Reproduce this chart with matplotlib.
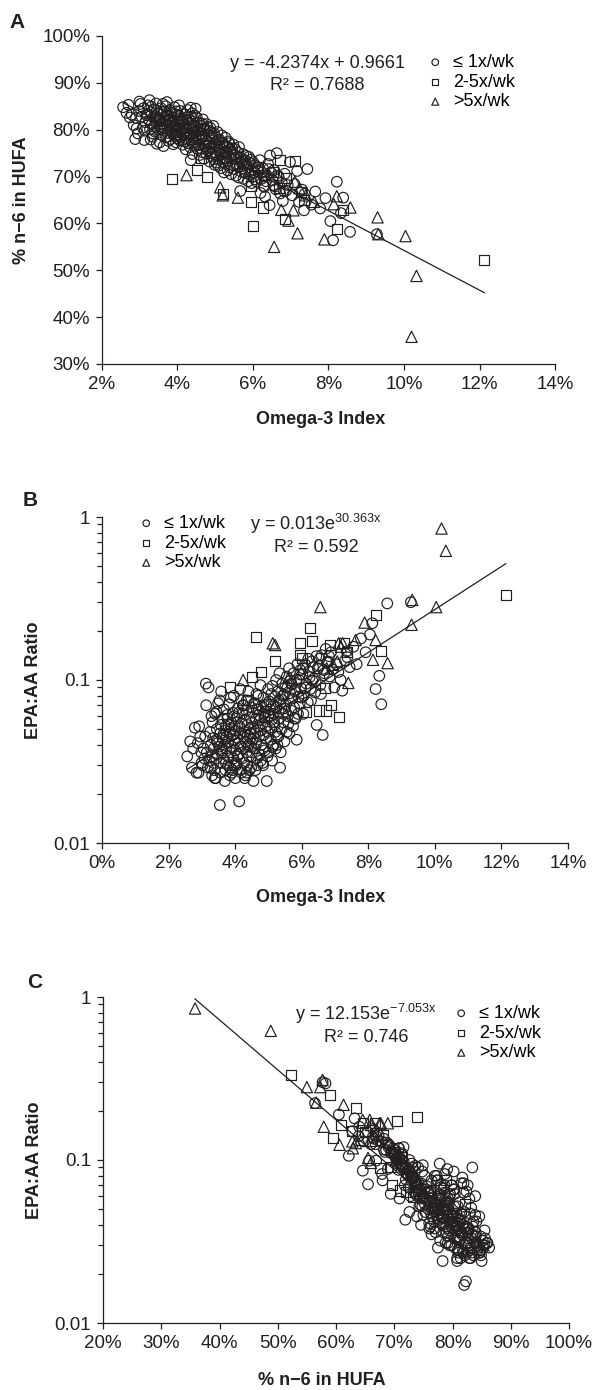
import numpy as np
import matplotlib.pyplot as plt
from matplotlib.ticker import PercentFormatter, FixedLocator, LogLocator, NullFormatter

plt.rcParams['font.family'] = ['Liberation Sans', 'DejaVu Sans']
plt.rcParams['mathtext.fontset'] = 'custom'
plt.rcParams['mathtext.rm'] = 'Liberation Sans'
plt.rcParams['mathtext.it'] = 'Liberation Sans:italic'
plt.rcParams['mathtext.bf'] = 'Liberation Sans:bold'

# per subject: omega-3 index (%), % n-6 in HUFA, EPA:AA ratio
# fish intake <= 1x/wk
circ_o3i = [2.56, 2.79, 2.84, 2.90, 2.95, 2.70, 2.98, 2.88, 2.65, 2.99,
            3.02, 3.05, 3.08, 3.10, 3.12, 3.15, 3.18, 3.20, 3.22, 3.25,
            3.27, 3.30, 3.32, 3.34, 3.36, 3.38, 3.39, 3.40, 3.42, 3.44,
            3.45, 3.47, 3.48, 3.49, 3.35, 3.52, 3.54, 3.55, 3.57, 3.58,
            3.60, 3.62, 3.63, 3.65, 3.66, 3.68, 3.70, 3.71, 3.72, 3.74,
            3.75, 3.76, 3.78, 3.79, 3.80, 3.82, 3.83, 3.85, 3.86, 3.88,
            3.89, 3.90, 3.91, 3.93, 3.94, 3.95, 3.96, 3.97, 3.98, 3.99,
            4.00, 4.02, 4.03, 4.05, 4.06, 4.08, 4.09, 4.10, 4.12, 4.13,
            4.14, 4.16, 4.17, 4.18, 4.20, 4.21, 4.22, 4.24, 4.25, 4.26,
            4.28, 4.29, 4.30, 4.32, 4.33, 4.34, 4.36, 4.37, 4.38, 4.40,
            4.41, 4.42, 4.44, 4.45, 4.46, 4.47, 4.48, 4.49, 3.72, 4.35,
            4.50, 4.52, 4.53, 4.55, 4.56, 4.58, 4.59, 4.60, 4.62, 4.63,
            4.65, 4.66, 4.68, 4.69, 4.70, 4.72, 4.73, 4.75, 4.76, 4.78,
            4.79, 4.80, 4.82, 4.83, 4.85, 4.86, 4.88, 4.89, 4.90, 4.92,
            4.93, 4.95, 4.96, 4.98, 4.99, 5.00, 5.02, 5.04, 5.05, 5.07,
            5.08, 5.10, 5.12, 5.13, 5.15, 5.16, 5.18, 5.20, 5.21, 5.23,
            5.25, 5.26, 5.28, 5.30, 5.31, 5.33, 5.35, 5.36, 5.38, 5.40,
            5.42, 5.44, 5.45, 5.47, 5.49, 5.50, 5.53, 5.55, 5.58, 5.60,
            5.62, 5.65, 5.66, 5.68, 5.70, 5.72, 5.75, 5.77, 5.80, 5.82,
            5.85, 5.87, 5.90, 5.92, 5.94, 5.96, 5.98, 6.02, 6.06, 6.10,
            6.14, 6.18, 6.22, 6.26, 6.30, 6.32, 6.36, 6.40, 6.44, 6.45,
            6.48, 6.20, 6.52, 6.56, 6.60, 6.63, 6.68, 6.72, 6.76, 6.79,
            6.84, 6.88, 6.92, 6.98, 7.04, 7.10, 7.17, 7.22, 7.30, 7.35,
            7.37, 7.44, 7.55, 7.65, 7.78, 7.92, 8.12, 8.22, 8.33, 8.39,
            8.57, 9.28, 8.05,
            3.31, 3.43, 3.56, 3.64, 3.69, 3.77, 3.84, 3.92, 4.01, 4.07,
            4.11, 4.19, 4.23, 4.27, 4.31, 4.39, 4.43, 4.51, 4.57, 4.61,
            4.67, 4.71, 4.77, 4.84, 4.87, 4.91, 4.97, 5.01, 5.06, 5.11,
            5.17, 5.22, 5.27, 5.32, 5.37, 5.43, 5.48, 5.52, 5.57, 5.63,
            5.69, 5.74, 5.79, 5.84, 5.89, 5.95, 6.00, 6.04, 6.12, 6.24,
            6.34, 6.42, 6.54, 6.66, 6.82, 3.26, 3.46, 3.61, 4.04, 4.46,
            2.74, 2.92, 3.13, 3.29, 3.53,
            3.58, 3.87, 4.15, 4.64, 3.44, 3.97, 5.55, 5.78, 6.05, 5.30,
            6.28, 4.84, 5.15, 6.58, 4.35]
circ_n6 = [84.8, 83.2, 81.0, 82.5, 79.2, 85.3, 84.0, 78.0, 83.6, 86.0,
           85.5, 82.8, 80.4, 84.6, 77.8, 81.6, 83.1, 83.4, 85.2, 82.0,
           80.1, 83.7, 81.2, 78.5, 82.6, 84.3, 80.8, 79.6, 82.9, 81.4,
           77.0, 83.4, 80.0, 81.9, 79.2, 82.3, 82.0, 80.7, 78.9, 83.8,
           81.3, 79.8, 76.5, 82.7, 80.2, 81.8, 78.4, 83.0, 80.9, 79.3,
           82.2, 77.6, 81.0, 84.2, 79.9, 78.0, 81.5, 80.4, 82.6, 79.1,
           76.9, 80.8, 81.9, 78.6, 80.0, 83.3, 77.3, 79.5, 81.2, 78.2,
           80.5, 79.0, 82.4, 77.8, 80.9, 78.5, 81.6, 79.7, 82.3, 76.8,
           80.2, 78.9, 81.1, 77.5, 79.4, 80.7, 75.8, 82.0, 78.2, 79.9,
           77.1, 81.4, 78.7, 80.3, 76.3, 79.0, 82.8, 77.9, 80.0, 74.8,
           78.4, 81.0, 76.6, 79.3, 77.4, 80.6, 84.5, 78.0, 85.9, 73.5,
           77.2, 79.6, 75.9, 78.3, 76.7, 80.1, 74.6, 77.8, 79.2, 76.0,
           81.3, 75.2, 78.6, 77.0, 73.8, 79.9, 76.4, 78.0, 74.9, 77.5,
           80.6, 75.6, 76.9, 78.8, 73.2, 77.3, 75.0, 79.4, 76.2, 74.3,
           78.2, 80.8, 73.7, 77.0, 72.5, 75.1, 73.0, 76.7, 74.4, 77.8,
           72.3, 75.6, 73.6, 76.2, 71.8, 74.8, 77.2, 73.1, 75.3, 70.9,
           74.0, 76.5, 72.7, 75.0, 73.4, 71.3, 77.5, 74.2, 72.0, 75.8,
           70.5, 73.8, 76.0, 72.4, 74.6, 71.6, 73.9, 70.2, 72.8, 75.2,
           69.8, 72.1, 66.9, 74.0, 71.0, 73.3, 69.5, 72.5, 70.7, 74.4,
           71.9, 69.0, 72.9, 70.4, 73.6, 68.6, 71.5, 70.0, 72.4, 68.9,
           71.1, 73.5, 69.5, 71.8, 67.8, 65.7, 70.3, 72.7, 63.9, 74.5,
           70.8, 66.5, 69.2, 71.4, 67.3, 75.0, 69.9, 66.4, 68.7, 64.8,
           70.6, 67.0, 68.2, 73.1, 66.0, 68.4, 71.2, 64.6, 67.2, 62.8,
           66.3, 71.6, 64.0, 66.8, 63.2, 65.4, 56.4, 68.9, 62.2, 65.5,
           58.2, 57.7, 60.5,
           84.9, 85.6, 84.6, 83.9, 85.0, 82.9, 83.6, 84.8, 83.1, 84.0,
           81.9, 83.3, 82.6, 84.2, 82.1, 83.5, 81.8, 82.6, 81.5, 80.9,
           82.2, 80.3, 81.2, 79.8, 80.4, 78.6, 79.2, 78.4, 79.5, 77.9,
           78.8, 77.0, 78.3, 76.4, 77.1, 75.2, 76.8, 75.9, 74.1, 76.3,
           73.0, 74.8, 73.5, 72.6, 74.2, 71.2, 73.1, 70.8, 72.0, 70.9,
           69.0, 71.6, 68.2, 70.2, 66.9, 86.3, 84.1, 85.5, 85.2, 83.0,
           82.6, 80.3, 79.8, 77.9, 77.3,
           80.2, 81.7, 79.1, 78.7, 82.4, 83.9, 72.6, 70.9, 69.4, 73.9,
           68.0, 76.0, 74.6, 67.9, 84.7]
circ_ratio = [0.034, 0.051, 0.027, 0.027, 0.045, 0.029, 0.036, 0.041, 0.042, 0.031,
              0.030, 0.038, 0.033, 0.045, 0.095, 0.036, 0.029, 0.090, 0.032, 0.048,
              0.040, 0.034, 0.055, 0.044, 0.038, 0.028, 0.025, 0.062, 0.025, 0.043,
              0.050, 0.035, 0.041, 0.072, 0.031, 0.039, 0.0171, 0.047, 0.053, 0.031,
              0.036, 0.044, 0.058, 0.033, 0.066, 0.040, 0.049, 0.028, 0.052, 0.038,
              0.045, 0.061, 0.034, 0.030, 0.042, 0.071, 0.047, 0.029, 0.036, 0.055,
              0.050, 0.039, 0.027, 0.063, 0.046, 0.033, 0.080, 0.030, 0.043, 0.052,
              0.037, 0.049, 0.031, 0.058, 0.044, 0.067, 0.035, 0.041, 0.018, 0.052,
              0.047, 0.039, 0.028, 0.075, 0.054, 0.033, 0.062, 0.038, 0.045, 0.070,
              0.048, 0.025, 0.057, 0.042, 0.065, 0.036, 0.030, 0.053, 0.046, 0.085,
              0.040, 0.034, 0.059, 0.050, 0.044, 0.039, 0.029, 0.068, 0.031, 0.075,
              0.055, 0.043, 0.063, 0.024, 0.050, 0.038, 0.072, 0.047, 0.058, 0.041,
              0.033, 0.066, 0.052, 0.080, 0.061, 0.045, 0.035, 0.057, 0.093, 0.049,
              0.040, 0.069, 0.054, 0.031, 0.078, 0.046, 0.059, 0.037, 0.064, 0.052,
              0.044, 0.024, 0.071, 0.048, 0.088, 0.060, 0.074, 0.051, 0.066, 0.043,
              0.082, 0.057, 0.092, 0.039, 0.070, 0.062, 0.053, 0.079, 0.048, 0.100,
              0.068, 0.045, 0.085, 0.058, 0.064, 0.110, 0.029, 0.072, 0.076, 0.050,
              0.095, 0.062, 0.055, 0.081, 0.067, 0.090, 0.071, 0.105, 0.060, 0.054,
              0.118, 0.083, 0.099, 0.065, 0.094, 0.077, 0.110, 0.068, 0.087, 0.058,
              0.043, 0.125, 0.079, 0.100, 0.072, 0.115, 0.089, 0.108, 0.080, 0.125,
              0.095, 0.073, 0.113, 0.088, 0.130, 0.099, 0.102, 0.084, 0.140, 0.053,
              0.118, 0.135, 0.122, 0.093, 0.142, 0.046, 0.110, 0.155, 0.128, 0.130,
              0.105, 0.148, 0.116, 0.090, 0.125, 0.112, 0.100, 0.086, 0.132, 0.150,
              0.138, 0.120, 0.160, 0.125, 0.180, 0.148, 0.223, 0.088, 0.106, 0.071,
              0.295, 0.300, 0.190,
              0.026, 0.033, 0.027, 0.046, 0.024, 0.058, 0.026, 0.028, 0.025, 0.034,
              0.063, 0.027, 0.070, 0.031, 0.026, 0.039, 0.028, 0.036, 0.072, 0.028,
              0.030, 0.066, 0.032, 0.030, 0.062, 0.070, 0.034, 0.036, 0.060, 0.032,
              0.055, 0.038, 0.040, 0.075, 0.036, 0.080, 0.042, 0.064, 0.090, 0.047,
              0.095, 0.052, 0.085, 0.100, 0.062, 0.108, 0.078, 0.118, 0.090, 0.104,
              0.120, 0.098, 0.135, 0.115, 0.140, 0.029, 0.042, 0.037, 0.030, 0.047,
              0.038, 0.052, 0.070, 0.060, 0.075,
              0.085, 0.078, 0.088, 0.082, 0.064, 0.060, 0.048, 0.058, 0.062, 0.045,
              0.075, 0.038, 0.040, 0.082, 0.027]

# fish intake 2-5x/wk
sq_o3i = [12.13, 8.22, 8.39, 6.01, 6.85, 6.26, 5.96, 5.94, 7.26, 7.35, 6.72, 7.11,
          6.87, 4.62, 6.30, 3.85, 4.51, 4.77, 5.20, 4.40, 3.80, 6.12, 6.52, 6.70]
sq_n6 = [52.2, 58.9, 62.8, 59.5, 60.9, 63.4, 64.6, 68.0, 66.7, 65.0, 73.6, 73.3,
         69.6, 73.9, 70.4, 69.4, 71.4, 69.9, 66.2, 78.9, 82.1, 72.0, 71.0, 67.5]
sq_ratio = [0.33, 0.25, 0.15, 0.137, 0.164, 0.208, 0.169, 0.142, 0.169, 0.149, 0.065, 0.059,
            0.070, 0.183, 0.174, 0.090, 0.105, 0.112, 0.130, 0.075, 0.054, 0.064, 0.065, 0.089]

# fish intake >5x/wk
tri_o3i = [10.20, 10.33, 6.56, 9.32, 10.04, 7.89, 9.30, 7.18, 8.22, 8.14, 8.58,
           7.11, 7.23, 7.07, 6.94, 4.24, 5.13, 5.20, 7.62, 6.75, 7.40, 5.60]
tri_n6 = [35.8, 48.8, 55.0, 57.7, 57.3, 56.6, 61.3, 57.9, 65.8, 64.1, 63.4,
          68.9, 67.5, 62.8, 60.6, 70.3, 67.7, 66.0, 64.6, 62.9, 66.0, 65.5]
tri_ratio = [0.85, 0.62, 0.28, 0.31, 0.28, 0.225, 0.218, 0.16, 0.176, 0.133, 0.127,
             0.168, 0.168, 0.13, 0.124, 0.10, 0.168, 0.164, 0.176, 0.118, 0.096, 0.103]

group_labels = ['\u2264 1x/wk', '2-5x/wk', '>5x/wk']

# trendline coefficients as printed on the figure
fitA = (-4.2374, 0.9661, 0.7688)
fitB = (0.013, 30.363, 0.592)
fitC = (12.153, -7.053, 0.746)

INK = '#231f20'
W, H = 595, 1390

o3i = [np.array(a) / 100 for a in (circ_o3i, sq_o3i, tri_o3i)]
n6 = [np.array(a) / 100 for a in (circ_n6, sq_n6, tri_n6)]
ratio = [np.array(a) for a in (circ_ratio, sq_ratio, tri_ratio)]
markers = [('o', 58), ('s', 52), ('^', 66)]

fig = plt.figure(figsize=(W / 100, H / 100), dpi=100)


def box(l, r, t, b):
    return [l / W, 1 - b / H, (r - l) / W, (b - t) / H]


def style(ax):
    for s in ('top', 'right'):
        ax.spines[s].set_visible(False)
    for s in ('left', 'bottom'):
        ax.spines[s].set_color(INK)
        ax.spines[s].set_linewidth(0.9)
    ax.tick_params(which='both', direction='out', color=INK, width=0.9,
                   labelsize=13.5, labelcolor=INK)
    ax.tick_params(which='major', length=4.5, pad=4)
    ax.tick_params(which='minor', length=3.5)


def scatter(ax, xs, ys):
    hs = []
    for x, y, (m, s), lab in zip(xs, ys, markers, group_labels):
        h = ax.scatter(x, y, s=s, marker=m, facecolors='none', edgecolors=INK,
                       linewidths=0.85, label=lab, clip_on=False)
        hs.append(h)
    return hs


def legend(ax, hs, px, py):
    ax.legend(handles=hs, loc='upper left', bbox_to_anchor=(px / W, 1 - py / H),
              bbox_transform=fig.transFigure, frameon=False, fontsize=13,
              markerscale=0.62, handlelength=0.8, handletextpad=0.6,
              labelspacing=0.15, borderpad=0, borderaxespad=0)


def log_y(ax):
    ax.set_yscale('log')
    ax.set_ylim(0.01, 1)
    ax.yaxis.set_major_locator(FixedLocator([0.01, 0.1, 1]))
    ax.set_yticklabels(['0.01', '0.1', '1'])
    ax.yaxis.set_minor_locator(LogLocator(base=10, subs=np.arange(2, 10)))
    ax.yaxis.set_minor_formatter(NullFormatter())


# ---- A
axA = fig.add_axes(box(102, 555, 36, 364))
style(axA)
hs = scatter(axA, o3i, n6)
xa = np.concatenate(o3i)
xl = np.linspace(xa.min(), xa.max(), 50)
axA.plot(xl, fitA[0] * xl + fitA[1], color=INK, lw=0.9)
axA.set_xlim(0.02, 0.14)
axA.set_ylim(0.3, 1.0)
axA.set_xticks(np.arange(0.02, 0.141, 0.02))
axA.set_yticks(np.arange(0.3, 1.01, 0.1))
axA.xaxis.set_major_formatter(PercentFormatter(1.0, decimals=0))
axA.yaxis.set_major_formatter(PercentFormatter(1.0, decimals=0))
axA.set_xlabel('Omega-3 Index', fontsize=13, fontweight='bold', color=INK, va='center')
axA.xaxis.set_label_coords(0.483, -0.168)
axA.set_ylabel('% n\u22126 in HUFA', fontsize=13, fontweight='bold', color=INK, va='center')
axA.yaxis.set_label_coords(-0.177, 0.5)
legend(axA, hs, 428, 54)
fig.text(317 / W, 1 - 63 / H, 'y = %.4fx + %.4f' % fitA[:2], fontsize=13,
         color=INK, ha='center', va='center')
fig.text(317 / W, 1 - 86 / H, 'R\u00b2 = %.4f' % fitA[2], fontsize=13,
         color=INK, ha='center', va='center')
fig.text(17 / W, 1 - 22 / H, 'A', fontsize=15, fontweight='bold', color=INK,
         ha='center', va='center')

# ---- B
axB = fig.add_axes(box(102, 568, 517, 843))
style(axB)
hs = scatter(axB, o3i, ratio)
axB.plot(xl, fitB[0] * np.exp(fitB[1] * xl), color=INK, lw=0.9)
axB.set_xlim(0, 0.14)
axB.set_xticks(np.arange(0, 0.141, 0.02))
axB.xaxis.set_major_formatter(PercentFormatter(1.0, decimals=0))
log_y(axB)
axB.set_xlabel('Omega-3 Index', fontsize=13, fontweight='bold', color=INK, va='center')
axB.xaxis.set_label_coords(0.470, -0.166)
axB.set_ylabel('EPA:AA Ratio', fontsize=13, fontweight='bold', color=INK, va='center')
axB.yaxis.set_label_coords(-0.146, 0.5)
legend(axB, hs, 139, 515)
fig.text(316 / W, 1 - 524 / H, 'y = %.3fe$^{\\mathregular{%.3fx}}$' % fitB[:2], fontsize=13,
         color=INK, ha='center', va='center')
fig.text(316 / W, 1 - 547 / H, 'R\u00b2 = %.3f' % fitB[2], fontsize=13,
         color=INK, ha='center', va='center')
fig.text(30 / W, 1 - 500 / H, 'B', fontsize=15, fontweight='bold', color=INK,
         ha='center', va='center')

# ---- C
axC = fig.add_axes(box(103, 569, 997, 1323))
style(axC)
hs = scatter(axC, n6, ratio)
na = np.concatenate(n6)
nl = np.linspace(na.min(), na.max(), 50)
axC.plot(nl, fitC[0] * np.exp(fitC[1] * nl), color=INK, lw=0.9)
axC.set_xlim(0.2, 1.0)
axC.set_xticks(np.arange(0.2, 1.01, 0.1))
axC.xaxis.set_major_formatter(PercentFormatter(1.0, decimals=0))
log_y(axC)
axC.set_xlabel('% n\u22126 in HUFA', fontsize=13, fontweight='bold', color=INK, va='center')
axC.xaxis.set_label_coords(0.470, -0.175)
axC.set_ylabel('EPA:AA Ratio', fontsize=13, fontweight='bold', color=INK, va='center')
axC.yaxis.set_label_coords(-0.148, 0.5)
legend(axC, hs, 454, 1005)
fig.text(366 / W, 1 - 1014 / H, 'y = %.3fe$^{\\mathregular{%.3fx}}$' % fitC[:2], fontsize=13,
         color=INK, ha='center', va='center')
fig.text(366 / W, 1 - 1037 / H, 'R\u00b2 = %.3f' % fitC[2], fontsize=13,
         color=INK, ha='center', va='center')
fig.text(35 / W, 1 - 983 / H, 'C', fontsize=15, fontweight='bold', color=INK,
         ha='center', va='center')

fig.savefig('out.png', dpi=100)
